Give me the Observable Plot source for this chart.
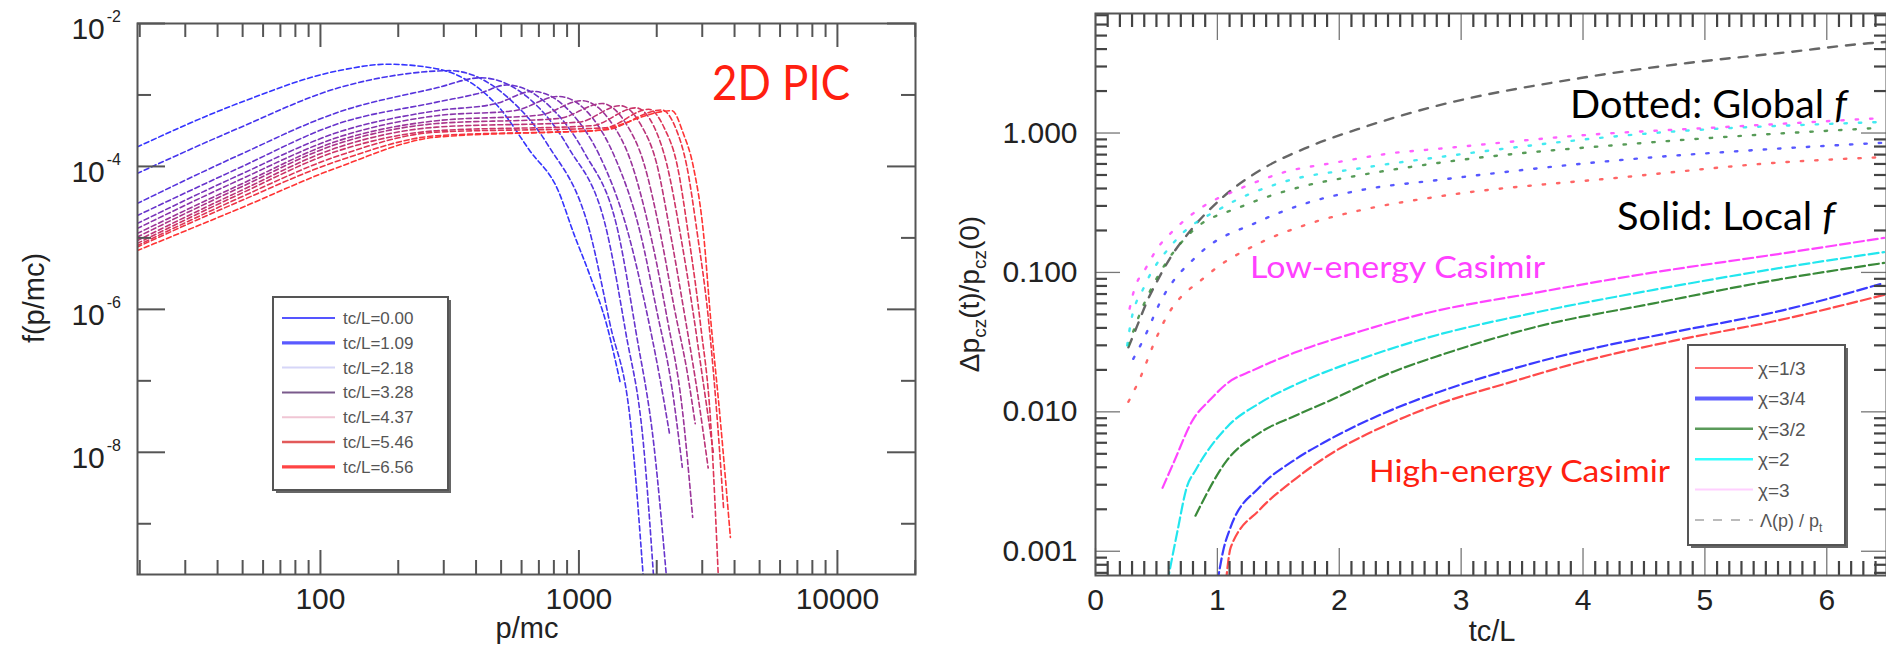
<!DOCTYPE html>
<html><head><meta charset="utf-8">
<script src="https://cdn.jsdelivr.net/npm/d3@7"></script>
<script src="https://cdn.jsdelivr.net/npm/@observablehq/plot@0.6"></script>
<style>
html,body{margin:0;padding:0;background:#fff;}
body{width:1886px;height:648px;position:relative;overflow:hidden;}
#left,#right{position:absolute;top:0;}
#left{left:0;} #right{left:960px;}
</style></head><body>
<div id="left"></div><div id="right"></div>
<script>
// ================= LEFT PANEL DATA (2D PIC spectra) =================
// each point: [log10(p/mc), log10 f(p/mc)]
const spectrumTimes = [0.00, 0.55, 1.09, 1.64, 2.18, 2.73, 3.28, 3.82, 4.37, 4.91, 5.46, 6.01, 6.56];
const spec0  = [[1.29,-3.73],[1.68,-3.12],[2.07,-2.66],[2.26,-2.57],[2.43,-2.62],[2.55,-2.76],[2.69,-3.17],[2.81,-3.78],[2.92,-4.34],[2.98,-4.94],[3.04,-5.50],[3.11,-6.25],[3.16,-7.03]];
const spec1  = [[1.29,-4.10],[1.68,-3.47],[2.07,-2.90],[2.30,-2.72],[2.50,-2.66],[2.72,-3.02],[2.88,-3.70],[3.044,-4.94],[3.12,-6.2],[3.20,-7.6],[3.25,-9.8]];
const spec2  = [[1.29,-4.52],[1.68,-3.85],[2.07,-3.24],[2.45,-2.90],[2.62,-2.76],[2.82,-3.09],[2.96,-3.74],[3.11,-4.94],[3.18,-6.3],[3.25,-7.9],[3.29,-9.8]];
const spec3  = [[1.29,-4.69],[1.68,-4.03],[2.07,-3.40],[2.45,-3.10],[2.62,-2.97],[2.72,-2.86],[2.89,-3.17],[3.02,-3.80],[3.153,-4.94],[3.22,-6.3],[3.29,-7.9],[3.34,-9.8]];
const spec4  = [[1.29,-4.80],[1.68,-4.13],[2.07,-3.52],[2.45,-3.22],[2.68,-3.12],[2.82,-2.95],[2.97,-3.25],[3.08,-3.85],[3.191,-4.94],[3.26,-6.0],[3.31,-6.9],[3.35,-7.73]];
const spec5  = [[1.29,-4.87],[1.68,-4.20],[2.07,-3.59],[2.45,-3.29],[2.75,-3.22],[2.92,-3.02],[3.05,-3.31],[3.14,-3.88],[3.238,-4.94],[3.30,-6.0],[3.36,-7.1],[3.40,-8.21]];
const spec6  = [[1.29,-4.94],[1.68,-4.27],[2.07,-3.64],[2.45,-3.36],[2.85,-3.28],[3.01,-3.08],[3.12,-3.36],[3.20,-3.92],[3.276,-4.94],[3.34,-6.1],[3.40,-7.4],[3.44,-8.91]];
const spec7  = [[1.29,-4.99],[1.68,-4.31],[2.07,-3.68],[2.45,-3.40],[2.92,-3.33],[3.09,-3.12],[3.18,-3.39],[3.25,-3.94],[3.315,-4.94],[3.37,-6.0],[3.42,-6.9],[3.45,-7.6]];
const spec8  = [[1.29,-5.04],[1.68,-4.36],[2.07,-3.73],[2.45,-3.45],[3.00,-3.38],[3.16,-3.15],[3.24,-3.42],[3.30,-3.95],[3.354,-4.94],[3.41,-6.1],[3.46,-7.2],[3.50,-8.22]];
const spec9  = [[1.29,-5.08],[1.68,-4.40],[2.07,-3.78],[2.45,-3.50],[3.05,-3.43],[3.22,-3.18],[3.29,-3.44],[3.34,-3.97],[3.392,-4.94],[3.44,-6.0],[3.48,-7.0],[3.52,-8.0]];
const spec10 = [[1.29,-5.11],[1.68,-4.45],[2.07,-3.85],[2.45,-3.52],[3.10,-3.46],[3.27,-3.20],[3.33,-3.46],[3.38,-3.98],[3.423,-4.94],[3.47,-6.2],[3.51,-7.6],[3.54,-9.8]];
const spec11 = [[1.29,-5.13],[1.68,-4.50],[2.07,-3.92],[2.45,-3.57],[3.10,-3.49],[3.32,-3.21],[3.375,-3.47],[3.417,-3.99],[3.458,-4.94],[3.50,-6.1],[3.53,-7.3],[3.56,-8.8]];
const spec12 = [[1.29,-5.18],[1.68,-4.60],[2.07,-4.01],[2.45,-3.59],[2.90,-3.52],[3.06,-3.50],[3.36,-3.22],[3.404,-3.54],[3.443,-4.01],[3.482,-4.94],[3.509,-6.11],[3.547,-7.55],[3.586,-9.19]];
const spectra = [spec0,spec1,spec2,spec3,spec4,spec5,spec6,spec7,spec8,spec9,spec10,spec11,spec12];

const xTicksLeft = [100, 1000, 10000];
const yTickExpLeft = [-2, -4, -6, -8];
const legendLeftLabels = ["tc/L=0.00","tc/L=1.09","tc/L=2.18","tc/L=3.28","tc/L=4.37","tc/L=5.46","tc/L=6.56"];

// ================= RIGHT PANEL DATA =================
// [tc/L, Δp_cz(t)/p_cz(0)]
const chiLabels = ["χ=1/3", "χ=3/4", "χ=3/2", "χ=2", "χ=3"];
const localChi13 = [[1.07,0.0006],[1.11,0.00107],[1.35,0.0020],[1.60,0.0031],[1.90,0.0048],[2.45,0.0085],[2.83,0.0115],[3.35,0.0158],[4.04,0.0235],[4.72,0.032],[5.62,0.0457],[6.47,0.069]];
const localChi34 = [[1.00,0.0006],[1.05,0.00103],[1.11,0.0015],[1.35,0.0029],[1.63,0.0045],[1.90,0.0062],[2.45,0.0105],[2.83,0.0140],[3.35,0.0195],[4.04,0.028],[4.72,0.037],[5.62,0.053],[6.47,0.084]];
const localChi32 = [[0.82,0.0018],[1.08,0.0045],[1.35,0.0071],[1.63,0.0093],[1.90,0.0118],[2.45,0.0195],[2.83,0.0255],[3.63,0.041],[4.58,0.060],[5.54,0.087],[6.47,0.117]];
const localChi2  = [[0.59,0.0006],[0.67,0.00136],[0.75,0.0029],[0.82,0.0038],[1.08,0.0078],[1.35,0.0116],[1.63,0.0155],[2.18,0.0240],[2.67,0.0330],[3.63,0.052],[4.58,0.075],[5.54,0.105],[6.47,0.14]];
const localChi3  = [[0.55,0.00285],[0.64,0.0043],[0.80,0.0088],[0.94,0.0122],[1.08,0.016],[1.30,0.020],[1.63,0.0265],[2.18,0.038],[2.67,0.050],[3.63,0.072],[4.58,0.10],[5.54,0.133],[6.47,0.177]];
const globalChi13 = [[0.27,0.0118],[0.37,0.0178],[0.48,0.031],[0.56,0.044],[0.92,0.096],[1.35,0.163],[1.77,0.226],[2.18,0.28],[2.81,0.35],[4.31,0.48],[5.68,0.62],[6.45,0.67]];
const globalChi34 = [[0.31,0.024],[0.40,0.034],[0.53,0.061],[0.86,0.138],[1.33,0.23],[1.71,0.31],[2.18,0.39],[2.81,0.46],[4.31,0.64],[5.68,0.78],[6.45,0.85]];
const globalChi32 = [[0.27,0.030],[0.37,0.052],[0.50,0.09],[0.60,0.125],[0.80,0.20],[1.19,0.295],[1.68,0.41],[2.18,0.50],[2.81,0.61],[4.58,0.86],[6.45,1.09]];
const globalChi2  = [[0.26,0.030],[0.29,0.044],[0.40,0.079],[0.64,0.163],[1.05,0.295],[1.52,0.44],[2.18,0.56],[2.81,0.67],[4.58,1.0],[6.22,1.18],[6.45,1.20]];
const globalChi3  = [[0.28,0.055],[0.31,0.071],[0.42,0.11],[0.51,0.15],[0.64,0.20],[0.89,0.30],[1.16,0.39],[1.57,0.53],[1.95,0.61],[2.45,0.72],[2.81,0.77],[4.04,0.97],[5.13,1.10],[6.45,1.28]];
const lambdaOverP = [[0.27,0.029],[0.34,0.041],[0.43,0.064],[0.51,0.088],[0.62,0.13],[0.78,0.20],[1.05,0.35],[1.35,0.54],[1.74,0.79],[2.20,1.10],[2.73,1.51],[3.98,2.48],[4.86,3.18],[5.68,3.8],[6.34,4.4],[6.49,4.5]];
const xTicksRight = [0, 1, 2, 3, 4, 5, 6];
const yTicksRight = [0.001, 0.01, 0.1, 1];

// ================= STYLES =================
const FONT = "'Liberation Sans', Arial, Helvetica, sans-serif";
const blueRed = d3.interpolateRgb("#3434ff", "#ff3434");
const chiColors = ["#ff4a4a", "#3a3aff", "#3a8a3a", "#22e6ee", "#ff44ff"];

// ================= LEFT PLOT =================
const leftRows = spectra.flatMap((s, k) => s.map(([lp, lf]) => ({k, t: spectrumTimes[k], p: 10 ** lp, f: 10 ** lf, c: blueRed(k / 12)})));
const xMinL = [];
for (const d of [10, 100, 1000, 10000]) for (let m = 2; m <= 9; m++) { const v = m * d; if (v >= 20 && v <= 20000) xMinL.push(v); }
const yMajL = yTickExpLeft.map(e => 10 ** e);
const yMinL = [1e-3, 1e-5, 1e-7, 1e-9];
const FWL = 778, FHL = 551;
const tk = {stroke: "#555", strokeWidth: 2};

const leftPlot = Plot.plot({
  width: 960, height: 648, marginLeft: 137, marginRight: 45, marginTop: 23, marginBottom: 74,
  style: {fontFamily: FONT, color: "#222", background: "transparent", overflow: "visible"},
  x: {type: "log", domain: [19.6, 20050], axis: null},
  y: {type: "log", domain: [10 ** -9.71, 1e-2], axis: null},
  color: {type: "identity"},
  marks: [
    Plot.line(leftRows, {x: "p", y: "f", z: "k", stroke: "c", strokeWidth: 1.6, strokeDasharray: "5,3", curve: "monotone-x", clip: true}),
    Plot.ruleX(xTicksLeft, {...tk, insetTop: FHL - 24}),
    Plot.ruleX(xMinL, {...tk, insetTop: FHL - 14}),
    Plot.ruleX(xTicksLeft, {...tk, insetBottom: FHL - 24}),
    Plot.ruleX(xMinL, {...tk, insetBottom: FHL - 14}),
    Plot.ruleY(yMajL, {...tk, insetRight: FWL - 28}),
    Plot.ruleY(yMinL, {...tk, insetRight: FWL - 14}),
    Plot.ruleY(yMajL, {...tk, insetLeft: FWL - 28}),
    Plot.ruleY(yMinL, {...tk, insetLeft: FWL - 14}),
    Plot.frame({stroke: "#555", strokeWidth: 2}),
    Plot.axisX(xTicksLeft, {tickSize: 0, tickPadding: 13, fontSize: 30, label: null, tickFormat: d => String(d)})
  ]
});
document.getElementById("left").appendChild(leftPlot);

// ================= RIGHT PLOT =================
const mkRows = (arr, name) => arr.map(([t, v]) => ({t, v, name}));
const localRows = [localChi13, localChi34, localChi32, localChi2, localChi3].flatMap((a, i) => mkRows(a, chiLabels[i]));
const globalRows = [globalChi13, globalChi34, globalChi32, globalChi2, globalChi3].flatMap((a, i) => mkRows(a, chiLabels[i]));
const lambdaRows = mkRows(lambdaOverP, "Λ");
const xMinR = d3.range(1, 65).filter(i => i % 10 !== 0).map(i => i / 10);
const yMinR = [];
for (const d of [0.0001, 0.001, 0.01, 0.1, 1]) for (let m = 2; m <= 9; m++) { const v = m * d; if (v > 0.00067 && v < 7.2) yMinR.push(v); }
const FWR = 791, FHR = 562;
const tkMaj = {stroke: "#777", strokeWidth: 1.3};
const tkMin = {stroke: "#444", strokeWidth: 2.2};

const rightPlot = Plot.plot({
  width: 926, height: 648, marginLeft: 135, marginRight: 0, marginTop: 13, marginBottom: 73,
  style: {fontFamily: FONT, color: "#222", background: "transparent", overflow: "visible"},
  x: {domain: [0, 6.49], axis: null},
  y: {type: "log", domain: [0.00067, 7.2], axis: null},
  color: {domain: chiLabels, range: chiColors},
  marks: [
    Plot.line(lambdaRows, {x: "t", y: "v", stroke: "#666", strokeWidth: 2.4, strokeDasharray: "9,9", curve: "monotone-x", clip: true}),
    Plot.line(globalRows, {x: "t", y: "v", z: "name", stroke: "name", strokeWidth: 2.4, strokeOpacity: 0.85, strokeDasharray: "2.4,12", curve: "monotone-x", clip: true}),
    Plot.line(localRows, {x: "t", y: "v", z: "name", stroke: "name", strokeWidth: 2.2, strokeDasharray: "10,4", curve: "monotone-x", clip: true}),
    Plot.ruleX(xTicksRight, {...tkMaj, insetTop: FHR - 27}),
    Plot.ruleX(xMinR, {...tkMin, insetTop: FHR - 14}),
    Plot.ruleX(xTicksRight, {...tkMaj, insetBottom: FHR - 27}),
    Plot.ruleX(xMinR, {...tkMin, insetBottom: FHR - 14}),
    Plot.ruleY(yTicksRight, {...tkMaj, insetRight: FWR - 25}),
    Plot.ruleY(yMinR, {...tkMin, insetRight: FWR - 12}),
    Plot.ruleY(yTicksRight, {...tkMaj, insetLeft: FWR - 25}),
    Plot.ruleY(yMinR, {...tkMin, insetLeft: FWR - 12}),
    Plot.frame({stroke: "#555", strokeWidth: 2}),
    Plot.axisX(xTicksRight, {tickSize: 0, tickPadding: 13, fontSize: 30, label: null, tickFormat: d => String(d)}),
    Plot.axisY(yTicksRight, {tickSize: 0, tickPadding: 18, fontSize: 30, label: null, tickFormat: d3.format(".3f")})
  ]
});
document.getElementById("right").appendChild(rightPlot);

// ================= OVERLAY: labels, legends, annotations =================
const ov = d3.select("body").append("svg")
  .attr("width", 1886).attr("height", 648)
  .style("position", "absolute").style("left", "0px").style("top", "0px")
  .style("font-family", FONT);

// left y tick labels 10^n with superscripts, positioned through the plot's y scale
const yL = leftPlot.scale("y");
yTickExpLeft.forEach(e => {
  const y = yL.apply(10 ** e);
  const t = ov.append("text").attr("x", 121).attr("y", y + 16).attr("text-anchor", "end").attr("fill", "#222").attr("font-size", 30);
  t.append("tspan").text("10");
  t.append("tspan").attr("dy", -17).attr("dx", 2).attr("font-size", 16).text(String(e));
});

// axis titles
ov.append("text").attr("x", 527).attr("y", 638).attr("text-anchor", "middle").attr("font-size", 29).attr("fill", "#222").text("p/mc");
ov.append("text").attr("transform", "translate(44,298) rotate(-90)").attr("text-anchor", "middle").attr("font-size", 29).attr("fill", "#222").text("f(p/mc)");
ov.append("text").attr("x", 1492).attr("y", 641).attr("text-anchor", "middle").attr("font-size", 29).attr("fill", "#222").text("tc/L");
{
  const t = ov.append("text").attr("transform", "translate(979,294) rotate(-90)").attr("text-anchor", "middle").attr("font-size", 28).attr("fill", "#222");
  t.append("tspan").text("Δp");
  t.append("tspan").attr("dy", 7).attr("font-size", 19).text("cz");
  t.append("tspan").attr("dy", -7).text("(t)/p");
  t.append("tspan").attr("dy", 7).attr("font-size", 19).text("cz");
  t.append("tspan").attr("dy", -7).text("(0)");
}

// legend helper
function legendBox(x0, y0, w, h) {
  ov.append("rect").attr("x", x0 + 3).attr("y", y0 + 3).attr("width", w).attr("height", h).attr("fill", "#666");
  ov.append("rect").attr("x", x0).attr("y", y0).attr("width", w).attr("height", h).attr("fill", "#fff").attr("stroke", "#555").attr("stroke-width", 2);
}
// left legend
const legLeftColors = ["#5555ff", "#5a5aff", "#d6d6f8", "#7a5a8c", "#f0c6d4", "#e25a5a", "#ff4444"];
const legLeftWidths = [2, 3.2, 2, 2, 2, 2.6, 3.2];
legendBox(273, 297, 175, 193);
legendLeftLabels.forEach((lab, i) => {
  const y = 318 + i * 24.8;
  ov.append("line").attr("x1", 282).attr("x2", 335).attr("y1", y).attr("y2", y).attr("stroke", legLeftColors[i]).attr("stroke-width", legLeftWidths[i]);
  ov.append("text").attr("x", 343).attr("y", y + 6).attr("font-size", 17).attr("fill", "#555").text(lab);
});

// right legend
const legRightColors = ["#ff7070", "#6060ff", "#5a9a5a", "#33ffff", "#ffd0ff"];
const legRightWidths = [2, 4, 2.4, 2.4, 2];
legendBox(1688, 345, 157, 200);
chiLabels.forEach((lab, i) => {
  const y = 368 + i * 30.4;
  ov.append("line").attr("x1", 1695).attr("x2", 1753).attr("y1", y).attr("y2", y).attr("stroke", legRightColors[i]).attr("stroke-width", legRightWidths[i]);
  ov.append("text").attr("x", 1758).attr("y", y + 7).attr("font-size", 19).attr("fill", "#555").text(lab);
});
{
  const y = 368 + 5 * 30.4;
  ov.append("line").attr("x1", 1695).attr("x2", 1753).attr("y1", y).attr("y2", y).attr("stroke", "#bbb").attr("stroke-width", 2).attr("stroke-dasharray", "9,9");
  const t = ov.append("text").attr("x", 1760).attr("y", y + 7).attr("font-size", 18).attr("fill", "#555");
  t.append("tspan").text("Λ(p) / p");
  t.append("tspan").attr("dy", 5).attr("font-size", 12).text("t");
}

// annotations
const AFONT = "Lato, 'Open Sans', sans-serif";
function note(x, y, size, len, fill, parts) {
  const t = ov.append("text").attr("x", x).attr("y", y).attr("font-family", AFONT).attr("font-size", size)
    .attr("fill", fill).attr("textLength", len).attr("lengthAdjust", "spacingAndGlyphs");
  parts.forEach(([s, it]) => { const sp = t.append("tspan").text(s); if (it) sp.attr("font-style", "italic"); });
}
note(712, 100, 49, 138, "#ff2010", [["2D PIC"]]);
note(1570, 118, 38, 277, "#000", [["Dotted: Global "], ["f", true]]);
note(1617, 230, 38, 218, "#000", [["Solid: Local "], ["f", true]]);
note(1250, 278, 31, 295, "#ff40ff", [["Low-energy Casimir"]]);
note(1369, 482, 31, 301, "#ff2010", [["High-energy Casimir"]]);
</script>
</body></html>
